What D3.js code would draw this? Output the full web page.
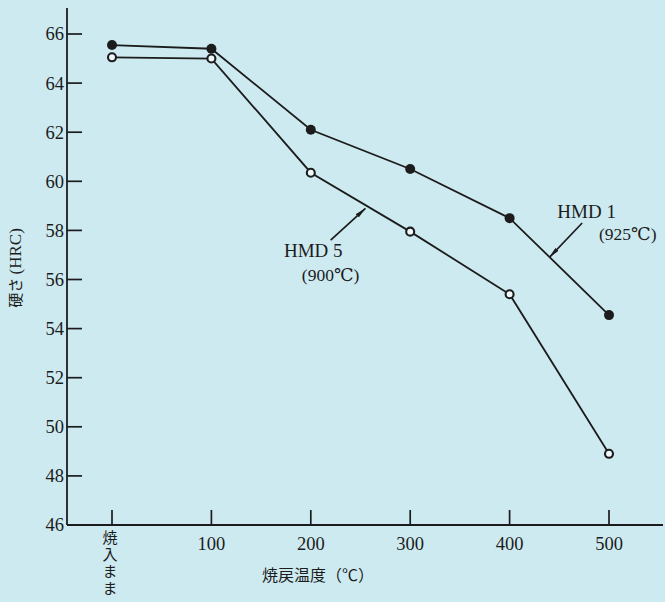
<!DOCTYPE html>
<html><head><meta charset="utf-8">
<script src="https://cdn.jsdelivr.net/npm/d3@7"></script>
<style>
html,body{margin:0;padding:0;background:#cdeaf0;}
svg{display:block;}
</style></head>
<body>
<svg id="c" width="665" height="602"></svg>
<script>
// ---- data ----
const temps = [0, 100, 200, 300, 400, 500];           // 0 = 焼入まま (as-quenched)
const tickLabels = ["焼入まま", "100", "200", "300", "400", "500"];
const hmd1 = [65.55, 65.4, 62.1, 60.5, 58.5, 54.55];   // filled markers
const hmd5 = [65.05, 65.0, 60.35, 57.95, 55.4, 48.9];  // open markers
const yTicks = [46, 48, 50, 52, 54, 56, 58, 60, 62, 64, 66];
const seriesNames = ["HMD 1", "HMD 5"];
const seriesTemps = ["(925℃)", "(900℃)"];

const svg = d3.select("#c");
const ink = "#1c1c1c";
const serif = "'Liberation Serif','DejaVu Serif',serif";
const cjk = "'Noto Sans CJK JP','Noto Sans CJK SC',sans-serif";

const x = d3.scaleLinear().domain([0, 500]).range([112, 609]);
const y = d3.scaleLinear().domain([46, 66]).range([525, 34]);
const x0 = 67;

// background
svg.append("rect").attr("width", 665).attr("height", 602).attr("fill", "#cdeaf0");

// y axis
const yAxis = svg.append("g").attr("transform", `translate(${x0},0)`);
yAxis.append("line").attr("x1", 0).attr("x2", 0).attr("y1", 8).attr("y2", y(46))
  .attr("stroke", ink).attr("stroke-width", 1.8);
yTicks.forEach(t => {
  if (t !== 46) yAxis.append("line").attr("x1", 0).attr("x2", 15).attr("y1", y(t)).attr("y2", y(t))
    .attr("stroke", ink).attr("stroke-width", 1.7);
  yAxis.append("text").attr("x", -3).attr("y", y(t)).attr("dy", "0.35em")
    .attr("text-anchor", "end").attr("font-family", serif).attr("font-size", 18.5)
    .attr("fill", ink).text(t);
});

// x axis
const xAxis = svg.append("g");
xAxis.append("line").attr("x1", x0).attr("x2", 663).attr("y1", y(46)).attr("y2", y(46))
  .attr("stroke", ink).attr("stroke-width", 1.8);
temps.forEach((t, i) => {
  xAxis.append("line").attr("x1", x(t)).attr("x2", x(t)).attr("y1", y(46)).attr("y2", y(46) - 15)
    .attr("stroke", ink).attr("stroke-width", 1.7);
  if (i === 0) {
    xAxis.append("text").attr("x", x(t) - 2).attr("y", 530)
      .attr("writing-mode", "tb").style("writing-mode", "vertical-rl")
      .style("text-orientation", "upright").attr("letter-spacing", 2)
      .attr("font-family", cjk).attr("font-size", 15)
      .attr("fill", ink).text(tickLabels[0]);
  } else {
    xAxis.append("text").attr("x", x(t)).attr("y", 550)
      .attr("text-anchor", "middle").attr("font-family", serif).attr("font-size", 18.5)
      .attr("fill", ink).text(tickLabels[i]);
  }
});

// axis titles
svg.append("text").attr("x", 262).attr("y", 581)
  .attr("font-family", cjk).attr("font-size", 16).attr("fill", ink)
  .text("焼戻温度（℃）");
const yt = svg.append("text").attr("transform", "translate(21,268) rotate(-90)")
  .attr("text-anchor", "middle").attr("fill", ink);
yt.append("tspan").attr("font-family", cjk).attr("font-size", 15).text("硬さ ");
yt.append("tspan").attr("font-family", serif).attr("font-size", 17).text("(HRC)");

// lines
const line = d3.line().x((d, i) => x(temps[i])).y(d => y(d));
[hmd1, hmd5].forEach(s => {
  svg.append("path").attr("d", line(s)).attr("fill", "none")
    .attr("stroke", ink).attr("stroke-width", 1.8);
});

// markers
svg.append("g").selectAll("circle").data(hmd5).join("circle")
  .attr("cx", (d, i) => x(temps[i])).attr("cy", d => y(d)).attr("r", 4)
  .attr("fill", "#eef8fa").attr("stroke", ink).attr("stroke-width", 2.1);
svg.append("g").selectAll("circle").data(hmd1).join("circle")
  .attr("cx", (d, i) => x(temps[i])).attr("cy", d => y(d)).attr("r", 5)
  .attr("fill", ink);

// leaders with arrowheads
svg.append("defs").append("marker").attr("id", "arr")
  .attr("viewBox", "0 0 10 4").attr("refX", 10).attr("refY", 2)
  .attr("markerWidth", 11).attr("markerHeight", 4.5).attr("markerUnits", "userSpaceOnUse")
  .attr("orient", "auto")
  .append("path").attr("d", "M0,0 L10,2 L0,4 Z").attr("fill", ink);

const leaders = [
  {tail: [473, 58.3], tip: [440, 56.9]},   // HMD 1
  {tail: [220, 57.6], tip: [255, 58.9]}    // HMD 5
];
leaders.forEach(l => {
  svg.append("line")
    .attr("x1", x(l.tail[0])).attr("y1", y(l.tail[1]))
    .attr("x2", x(l.tip[0])).attr("y2", y(l.tip[1]))
    .attr("stroke", ink).attr("stroke-width", 1.7).attr("marker-end", "url(#arr)");
});

// labels
const labelPos = [
  {name: [448, 58.5], temp: [490, 57.6]},
  {name: [173, 56.9], temp: [191, 55.95]}
];
labelPos.forEach((p, i) => {
  svg.append("text").attr("x", x(p.name[0])).attr("y", y(p.name[1]))
    .attr("font-family", serif).attr("font-size", 19).attr("fill", ink).text(seriesNames[i]);
  svg.append("text").attr("x", x(p.temp[0])).attr("y", y(p.temp[1]))
    .attr("font-family", serif).attr("font-size", 17.5).attr("fill", ink).text(seriesTemps[i]);
});
</script>
</body></html>
